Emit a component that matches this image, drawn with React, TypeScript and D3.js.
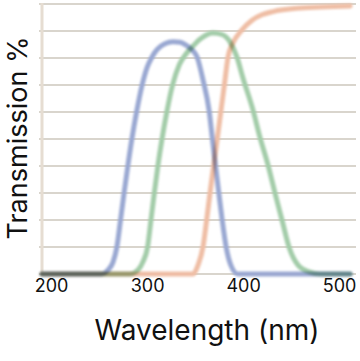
import React from "react";
import * as d3 from "d3";

// wavelength (nm), transmission (%)
const blueWl = [190, 230, 252.5, 258.8, 264, 268, 271.8, 275.5, 279.4, 283.6, 288.5, 294.3, 299.5, 304.6, 310, 318, 326.5, 333.8, 340, 346.3, 351.5, 357.7, 364, 367.5, 370.8, 374.2, 377.7, 381.8, 387, 394, 430, 511];
const blueT = [0, 0, 0, 1.5, 4.4, 10, 20, 30, 40, 50, 60, 70, 76.5, 80.4, 83.2, 85.3, 86, 85.8, 84.8, 83, 80.4, 71.9, 60.7, 50, 40, 30, 20, 10, 3, 0, 0, 0];

const greenWl = [190, 250, 281.7, 290, 295, 300, 303.5, 307, 310.7, 315, 320, 326, 333, 340, 346.3, 354.6, 368, 377.5, 385.8, 393, 399.4, 409.8, 417, 425.4, 432.7, 440, 447.3, 456.7, 469, 479.6, 511];
const greenT = [0, 0, 0, 1.5, 4.4, 10, 20, 30, 40, 50, 60, 70, 77.5, 81.5, 84, 87, 89.3, 88.7, 86, 80.4, 72.5, 60.7, 50.7, 40.4, 30, 20, 10, 3.3, 0.7, 0, 0];

const orangeWl = [190, 300, 347.3, 352.5, 357.7, 361.5, 365, 368.9, 372.8, 376.5, 380.1, 383.8, 389, 398.3, 408.8, 419, 430.6, 458.8, 511];
const orangeT = [0, 0, 0, 3.3, 10, 20, 30, 40.4, 50.7, 60.7, 70.4, 80.4, 85.6, 90.4, 94, 96, 97.2, 98.5, 99.3];

const xTicks = [200, 300, 400, 500];
const yGrid = [0, 10, 20, 30, 40, 50, 60, 70, 80, 90, 100];

const W = 360;
const H = 361;

export default function App() {
  const x = d3.scaleLinear().domain([190, 515]).range([42, 354]);
  const y = d3.scaleLinear().domain([0, 100]).range([274, 4]);
  const line = d3
    .line<[number, number]>()
    .x((d) => x(d[0]))
    .y((d) => y(d[1]))
    .curve(d3.curveMonotoneX);

  const series = [
    { wl: orangeWl, t: orangeT, color: "#efbea5" },
    { wl: greenWl, t: greenT, color: "#a3cca9" },
    { wl: blueWl, t: blueT, color: "#9aa8d2" },
  ];
  const font = "Inter, 'Open Sans', sans-serif";

  return (
    <svg
      width={W}
      height={H}
      style={{ position: "absolute", left: 0, top: 0, background: "#fff" }}
      fontFamily={font}
    >
      <defs>
        <filter id="soft" x="-5%" y="-5%" width="110%" height="110%">
          <feGaussianBlur stdDeviation="0.9" />
        </filter>
      </defs>
      <rect width={W} height={H} fill="#fff" />
      {yGrid.map((v) => (
        <line
          key={v}
          x1={39}
          x2={356}
          y1={y(v)}
          y2={y(v)}
          stroke="#d9d5cd"
          strokeWidth={2}
        />
      ))}
      <line x1={42} x2={42} y1={y(100) - 1} y2={y(0)} stroke="#e6ddd2" strokeWidth={3} />
      <g filter="url(#soft)">
        {series.map((s, i) => (
          <path
            key={i}
            d={line(s.wl.map((w, j) => [w, s.t[j]] as [number, number])) || ""}
            fill="none"
            stroke={s.color}
            strokeWidth={5}
            strokeLinejoin="round"
            strokeLinecap="round"
            style={{ mixBlendMode: "multiply" }}
          />
        ))}
      </g>
      {xTicks.map((t) => (
        <text key={t} x={x(t)} y={292} fontSize={18} textAnchor="middle" fill="#111">
          {t}
        </text>
      ))}
      <text x={207} y={340} fontSize={28} textAnchor="middle" fill="#111">
        Wavelength (nm)
      </text>
      <text
        transform={`translate(26.5,138) rotate(-90)`}
        fontSize={27}
        textAnchor="middle"
        fill="#111"
      >
        Transmission %
      </text>
    </svg>
  );
}
